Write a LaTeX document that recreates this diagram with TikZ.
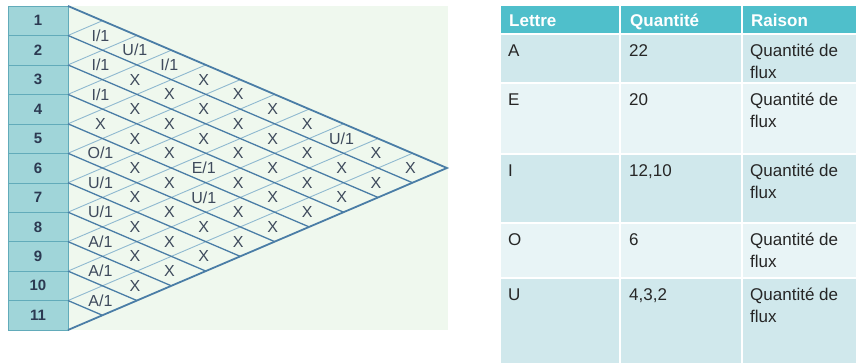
\documentclass[tikz,border=0pt]{standalone}
\usepackage{fontspec}
\setmainfont{Liberation Sans}

\definecolor{mint}{HTML}{EFF8EE}
\definecolor{colfill}{HTML}{A0D5D9}
\definecolor{colline}{HTML}{62ABBA}
\definecolor{numtext}{HTML}{2C3A52}
\definecolor{darkline}{HTML}{4A7DA6}
\definecolor{lightline}{HTML}{8FB9D0}
\definecolor{celltext}{HTML}{3E4A5C}
\definecolor{headfill}{HTML}{4FBFCB}
\definecolor{rowdark}{HTML}{D0E8EC}
\definecolor{rowlight}{HTML}{E8F4F6}

\def\rowh{29.4545}
\def\colw{34.45}

\tikzset{
  rownum/.style={font=\fontsize{15}{15}\selectfont\bfseries, text=numtext, inner sep=0pt},
  cell/.style={font=\fontsize{16}{16}\selectfont, text=celltext, inner sep=0pt},
  head/.style={font=\fontsize{17}{22}\selectfont\bfseries, text=white, anchor=base west, inner sep=0pt},
  entry/.style={font=\fontsize{17}{22}\selectfont, text=black!85, anchor=base west, inner sep=0pt, align=left},
}

\begin{document}
\begin{tikzpicture}[x=1pt, y=-1pt]

    \useasboundingbox (0,0) rectangle (856,363);

    % 背景
    \fill[mint] (8,6) rectangle (448,330);

    % 行号
    \foreach \k in {1,...,11} {
      \draw[colline, fill=colfill] (8,{6+(\k-1)*\rowh}) rectangle (68,{6+\k*\rowh});
      \node[rownum] (r\k) at (38,{6+(\k-0.5)*\rowh}) {\k};
    }

    % 斜线
    \foreach \k in {1,...,10} {
      \draw[lightline, line width=0.9pt] (68,{6+\k*\rowh}) -- ({68+\k*\colw},{6+\k*\rowh/2});
    }
    \foreach \k in {1,...,10} {
      \draw[darkline, line width=1.3pt] (68,{6+\k*\rowh}) -- ({68+(11-\k)*\colw},{6+\k*\rowh+(11-\k)*\rowh/2});
    }
    \draw[darkline, line width=1.8pt, line join=miter] (68,6) -- ({68+11*\colw},{6+5.5*\rowh}) -- (68,330);

    % 关系
    \foreach \i/\j/\t in {1/2/I, 1/3/U, 2/3/I, 1/4/I, 3/4/I, 1/9/U, 5/6/O, 4/8/E,
                          6/7/U, 5/9/U, 7/8/U, 8/9/A, 9/10/A, 10/11/A}
      \node[cell] (c\i-\j) at ({66+(\j-\i)*\colw},{6+((\i+\j)/2-0.5)*\rowh}) {\t/1};
    \foreach \i/\j in {2/4, 1/5, 2/5, 1/6, 3/5, 2/6, 1/7, 4/5, 3/6, 2/7, 1/8,
                       4/6, 3/7, 2/8, 4/7, 3/8, 2/9, 1/10, 5/7, 3/9, 2/10, 1/11,
                       5/8, 4/9, 3/10, 2/11, 6/8, 4/10, 3/11, 6/9, 5/10, 4/11,
                       7/9, 6/10, 5/11, 7/10, 6/11, 8/10, 7/11, 8/11, 9/11}
      \node[cell] (c\i-\j) at ({66+(\j-\i)*\colw},{6+((\i+\j)/2-0.5)*\rowh}) {X};

    % 表头
    \fill[headfill] (501,6) rectangle (619,33);
    \fill[headfill] (621,6) rectangle (741,33);
    \fill[headfill] (743,6) rectangle (856,33);
    \node[head] (h1) at (509,27) {Lettre};
    \node[head] (h2) at (630,27) {Quantité};
    \node[head] (h3) at (751,27) {Raison};

    % 表格
    \foreach \l/\q/\t/\b/\f in {A/22/35/82/rowdark, E/20/84/153/rowlight,
                                I/{12,10}/155/222/rowdark, O/6/224/277/rowlight,
                                U/{4,3,2}/279/363/rowdark} {
      \fill[\f] (501,\t) rectangle (619,\b);
      \fill[\f] (621,\t) rectangle (741,\b);
      \fill[\f] (743,\t) rectangle (856,\b);
      \node[entry] (l\l) at (508,{\t+21.5}) {\l};
      \node[entry] (q\l) at (629,{\t+21.5}) {\q};
      % 两行文字: base 在第二行
      \node[entry] (w\l) at (750,{\t+43.5}) {Quantité de\\flux};
    }

  \end{tikzpicture}
\end{document}
